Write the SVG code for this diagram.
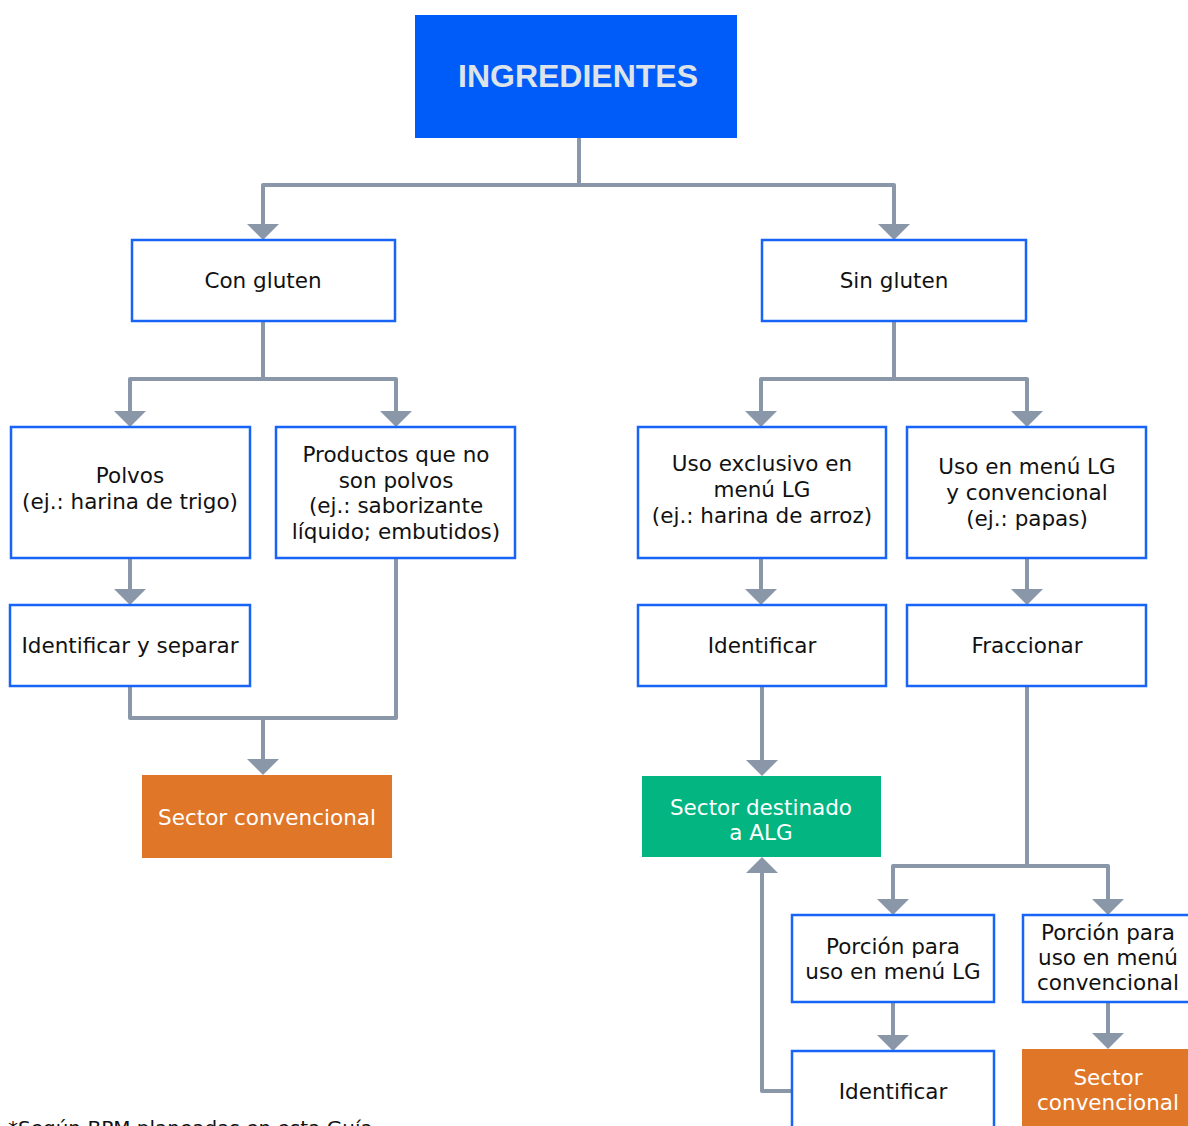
<svg xmlns="http://www.w3.org/2000/svg" width="1188" height="1126" viewBox="0 0 1188 1126">
<defs>
<style>
.box{fill:#fff;stroke:#1764f7;stroke-width:2.5}
.t{font-family:"DejaVu Sans","Liberation Sans",sans-serif;font-size:21.5px;fill:#111;text-anchor:middle}
.w{fill:#fff}
.c{fill:none;stroke:#8a97a9;stroke-width:4;stroke-linejoin:round}
</style>
<marker id="ah" viewBox="0 0 16 32" markerUnits="userSpaceOnUse" markerWidth="16" markerHeight="32" refX="1" refY="16" orient="auto">
<path d="M0,0 L16,16 L0,32 Z" fill="#8a97a9"/>
</marker>
</defs>
<rect width="1188" height="1126" fill="#fff"/>
<g id="connectors">
<path class="c" d="M579,138 V185"/>
<path class="c" d="M579,185 H263 V225" marker-end="url(#ah)"/>
<path class="c" d="M579,185 H894 V225" marker-end="url(#ah)"/>
<path class="c" d="M263,321 V379 H130 V412" marker-end="url(#ah)"/>
<path class="c" d="M263,379 H396 V412" marker-end="url(#ah)"/>
<path class="c" d="M130,558 V590" marker-end="url(#ah)"/>
<path class="c" d="M396,558 V718 H130 V686"/>
<path class="c" d="M263,718 V760" marker-end="url(#ah)"/>
<path class="c" d="M894,321 V379 H761 V412" marker-end="url(#ah)"/>
<path class="c" d="M894,379 H1027 V412" marker-end="url(#ah)"/>
<path class="c" d="M761,558 V590" marker-end="url(#ah)"/>
<path class="c" d="M1027,558 V590" marker-end="url(#ah)"/>
<path class="c" d="M762,686 V761" marker-end="url(#ah)"/>
<path class="c" d="M1027,686 V866 H893 V900" marker-end="url(#ah)"/>
<path class="c" d="M1027,866 H1108 V900" marker-end="url(#ah)"/>
<path class="c" d="M893,1002 V1036" marker-end="url(#ah)"/>
<path class="c" d="M1108,1002 V1034" marker-end="url(#ah)"/>
<path class="c" d="M792,1091 H762 V872" marker-end="url(#ah)"/>
</g>
<g id="ingredientes">
<rect x="415" y="15" width="322" height="123" fill="#005cf8"/>
<text x="578" y="87" style="font-family:'Liberation Sans',Arial,sans-serif;font-weight:bold;font-size:32px;fill:#dce3ea;text-anchor:middle">INGREDIENTES</text>
</g>
<g id="con-gluten">
<rect class="box" x="132" y="240" width="263" height="81"/>
<text class="t" x="263" y="288">Con gluten</text>
</g>
<g id="sin-gluten">
<rect class="box" x="762" y="240" width="264" height="81"/>
<text class="t" x="894" y="288">Sin gluten</text>
</g>
<g id="polvos">
<rect class="box" x="11" y="427" width="239" height="131"/>
<text class="t" x="130" y="483">Polvos</text>
<text class="t" x="130" y="509">(ej.: harina de trigo)</text>
</g>
<g id="productos">
<rect class="box" x="276" y="427" width="239" height="131"/>
<text class="t" x="396" y="462">Productos que no</text>
<text class="t" x="396" y="488">son polvos</text>
<text class="t" x="396" y="513">(ej.: saborizante</text>
<text class="t" x="396" y="539">líquido; embutidos)</text>
</g>
<g id="identificar-separar">
<rect class="box" x="10" y="605" width="240" height="81"/>
<text class="t" x="130" y="653">Identificar y separar</text>
</g>
<g id="sector-convencional-1">
<rect x="142" y="775" width="250" height="83" fill="#e07628"/>
<text class="t w" x="267" y="825">Sector convencional</text>
</g>
<g id="uso-exclusivo">
<rect class="box" x="638" y="427" width="248" height="131"/>
<text class="t" x="762" y="471">Uso exclusivo en</text>
<text class="t" x="762" y="497">menú LG</text>
<text class="t" x="762" y="523">(ej.: harina de arroz)</text>
</g>
<g id="uso-menu">
<rect class="box" x="907" y="427" width="239" height="131"/>
<text class="t" x="1027" y="474">Uso en menú LG</text>
<text class="t" x="1027" y="500">y convencional</text>
<text class="t" x="1027" y="526">(ej.: papas)</text>
</g>
<g id="identificar-1">
<rect class="box" x="638" y="605" width="248" height="81"/>
<text class="t" x="762" y="653">Identificar</text>
</g>
<g id="fraccionar">
<rect class="box" x="907" y="605" width="239" height="81"/>
<text class="t" x="1027" y="653">Fraccionar</text>
</g>
<g id="sector-alg">
<rect x="642" y="776" width="239" height="81" fill="#03b581"/>
<text class="t w" x="761" y="815">Sector destinado</text>
<text class="t w" x="761" y="840">a ALG</text>
</g>
<g id="porcion-lg">
<rect class="box" x="792" y="915" width="202" height="87"/>
<text class="t" x="893" y="954">Porción para</text>
<text class="t" x="893" y="979">uso en menú LG</text>
</g>
<g id="porcion-conv">
<rect class="box" x="1023" y="915" width="175" height="87"/>
<text class="t" x="1108" y="940">Porción para</text>
<text class="t" x="1108" y="965">uso en menú</text>
<text class="t" x="1108" y="990">convencional</text>
</g>
<g id="identificar-2">
<rect class="box" x="792" y="1051" width="202" height="90"/>
<text class="t" x="893" y="1099">Identificar</text>
</g>
<g id="sector-convencional-2">
<rect x="1022" y="1049" width="170" height="90" fill="#e07628"/>
<text class="t w" x="1108" y="1085">Sector</text>
<text class="t w" x="1108" y="1110">convencional</text>
</g>
<text x="8" y="1135" style="font-family:'DejaVu Sans','Liberation Sans',sans-serif;font-size:20px;fill:#111">*Según BPM planeadas en esta Guía</text>
</svg>
